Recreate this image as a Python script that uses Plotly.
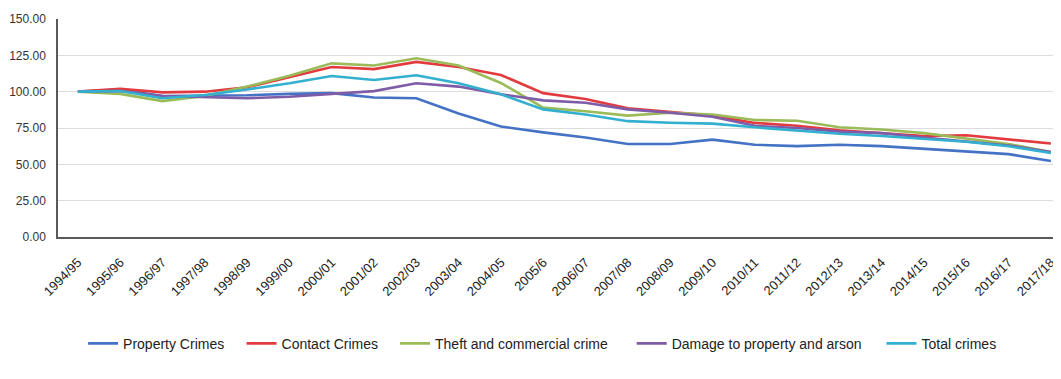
import plotly.graph_objects as go

years = ["1994/95", "1995/96", "1996/97", "1997/98", "1998/99", "1999/00", "2000/01",
         "2001/02", "2002/03", "2003/04", "2004/05", "2005/6", "2006/07", "2007/08",
         "2008/09", "2009/10", "2010/11", "2011/12", "2012/13", "2013/14", "2014/15",
         "2015/16", "2016/17", "2017/18"]

property_crimes = [100, 101.5, 97, 97, 97.5, 98.5, 99, 96, 95.5, 85, 76, 72, 68.5, 64,
                   64, 67, 63.5, 62.5, 63.5, 62.5, 60.5, 59, 57, 52.3]
contact_crimes = [100, 102, 99.5, 100, 103, 110, 117, 115.5, 120.5, 117, 111.5, 99, 95,
                  88.5, 86, 83.5, 78.5, 76.5, 73.5, 71.5, 69.5, 70, 67, 64.3]
theft_commercial = [100, 98.5, 93.5, 97, 103.5, 111, 119.5, 118, 123, 118, 106, 89, 86.5,
                    83.5, 85.5, 84.3, 80.5, 80, 75.5, 74, 71.5, 68, 64, 58.5]
damage_arson = [100, 100.5, 97, 96, 95.5, 96.5, 98.6, 100.4, 105.8, 103.5, 98.2, 94, 92.4,
                87.8, 85.5, 82.7, 76.5, 75, 72.5, 71.5, 68.5, 66, 63, 58.5]
total_crimes = [100, 100.5, 95.5, 97.7, 101.5, 105.8, 110.8, 108, 111.3, 105.8, 98.2,
                87.8, 84.3, 79.7, 78.6, 78, 75.5, 73, 71, 69.5, 67.5, 65.5, 62.5, 57.8]

series_names = ["Property Crimes", "Contact Crimes", "Theft and commercial crime",
                "Damage to property and arson", "Total crimes"]
series_values = [property_crimes, contact_crimes, theft_commercial, damage_arson, total_crimes]
series_colors = ["#4472C4", "#E23B3F", "#9BBB59", "#7E5CA8", "#33B0CF"]

# legend entry left positions (paper fraction of plot width)
legend_x = [0.025, 0.183, 0.336, 0.572, 0.821]

font_family = "Liberation Sans, Arial, sans-serif"

fig = go.Figure()
legend_layout = {}
for i, (name, vals, color) in enumerate(zip(series_names, series_values, series_colors)):
    lg = "legend" if i == 0 else f"legend{i+1}"
    fig.add_trace(go.Scatter(x=years, y=vals, name=name, mode="lines",
                             line=dict(color=color, width=2.6), legend=lg))
    legend_layout[lg] = dict(orientation="h", x=legend_x[i], xanchor="left",
                             y=-0.49, yanchor="middle", bgcolor="rgba(0,0,0,0)",
                             font=dict(size=14, color="#222222", family=font_family),
                             itemwidth=30)

# page body has an 8px default margin, so the figure is sized/offset to compensate
fig.update_layout(
    width=1053, height=371,
    margin=dict(l=50, r=0, t=11, b=142),
    paper_bgcolor="white", plot_bgcolor="white",
    font=dict(family=font_family, size=12, color="#333333"),
    showlegend=True,
    **legend_layout,
)
fig.update_xaxes(type="category", range=[-0.47, 23.24], showgrid=False, automargin=False,
                 showline=True, linecolor="#595959", linewidth=1.5,
                 tickangle=-45, ticks="", ticklabelstandoff=11,
                 tickfont=dict(size=13, color="#222222"))
fig.update_yaxes(range=[0, 150], tickvals=[0, 25, 50, 75, 100, 125, 150], automargin=False,
                 tickformat=".2f", showgrid=True, gridcolor="#DDDDDD", gridwidth=1,
                 showline=True, linecolor="#595959", linewidth=1.5, zeroline=False,
                 ticks="", ticklabelstandoff=8, tickfont=dict(size=12, color="#333333"))

fig.write_html("out.html")
